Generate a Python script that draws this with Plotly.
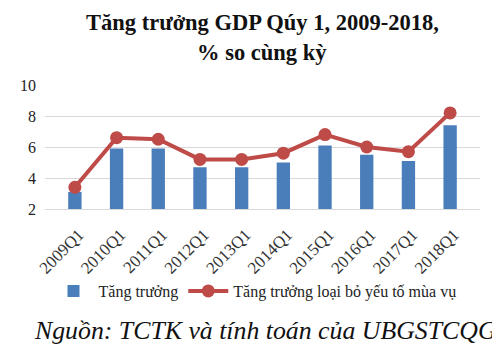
import plotly.graph_objects as go

categories = ["2009Q1", "2010Q1", "2011Q1", "2012Q1", "2013Q1",
              "2014Q1", "2015Q1", "2016Q1", "2017Q1", "2018Q1"]
growth = [3.1, 5.9, 5.9, 4.7, 4.7, 5.0, 6.1, 5.5, 5.1, 7.4]
seasonal_adj = [3.4, 6.6, 6.5, 5.2, 5.2, 5.6, 6.8, 6.0, 5.7, 8.2]
y_ticks = [2, 4, 6, 8, 10]
title_lines = ["Tăng trưởng GDP Qúy 1, 2009-2018,", "% so cùng kỳ"]
source_text = "Nguồn: TCTK và tính toán của UBGSTCQG"

SERIF = "Liberation Serif"

# The page body has an 8px margin, so the figure is drawn 8px smaller
# and all margins are offset so the plot area lands at x 45..480, y 85..209.
OFF = 8

fig = go.Figure()
fig.add_trace(go.Bar(x=categories, y=growth, name="Tăng trưởng",
                     marker=dict(color="#4a7ebb", line=dict(width=0))))
fig.add_trace(go.Scatter(x=categories, y=seasonal_adj, name="Tăng trưởng loại bỏ yếu tố mùa vụ",
                         mode="lines+markers",
                         line=dict(color="#be4b48", width=4),
                         marker=dict(color="#be4b48", size=13)))

def py(pix):
    return (209 - pix) / 124.0

def px(pix):
    return (pix - 45) / 435.0

fig.update_layout(
    width=500 - OFF, height=355 - OFF,
    margin=dict(l=45 - OFF, r=20, t=85 - OFF, b=146, autoexpand=False),
    paper_bgcolor="white", plot_bgcolor="white",
    bargap=0.68,
    font=dict(family=SERIF, size=15, color="#222"),
    showlegend=True,
    legend=dict(orientation="h", x=px(255), xanchor="center", y=py(291), yanchor="middle",
                font=dict(family=SERIF, size=16, color="#222"), itemwidth=40),
    xaxis=dict(tickangle=-45, showgrid=False, showline=True, linecolor="#d9d9d9",
               linewidth=1, automargin=False, ticklabelstandoff=8, ticklabelshift=4,
               tickfont=dict(family=SERIF, size=17, color="#333")),
    yaxis=dict(range=[2, 10], tickvals=y_ticks, showgrid=True, gridcolor="#d9d9d9",
               zeroline=False, showline=False, ticks="", automargin=False,
               ticklabelstandoff=8,
               tickfont=dict(family=SERIF, size=16, color="#222")),
    annotations=[
        dict(text="<b>" + title_lines[0] + "</b>", xref="paper", yref="paper",
             x=px(262), y=py(8), xanchor="center", yanchor="top", showarrow=False,
             font=dict(family=SERIF, size=22.5, color="#111")),
        dict(text="<b>" + title_lines[1] + "</b>", xref="paper", yref="paper",
             x=px(262), y=py(52), xanchor="center", yanchor="middle", showarrow=False,
             font=dict(family=SERIF, size=22.5, color="#111")),
        dict(text="<i>" + source_text + "</i>",
             xref="paper", yref="paper", x=px(265), y=py(330),
             xanchor="center", yanchor="middle", showarrow=False,
             font=dict(family=SERIF, size=25.8, color="#111")),
    ]
)

fig.write_html("out.html")
